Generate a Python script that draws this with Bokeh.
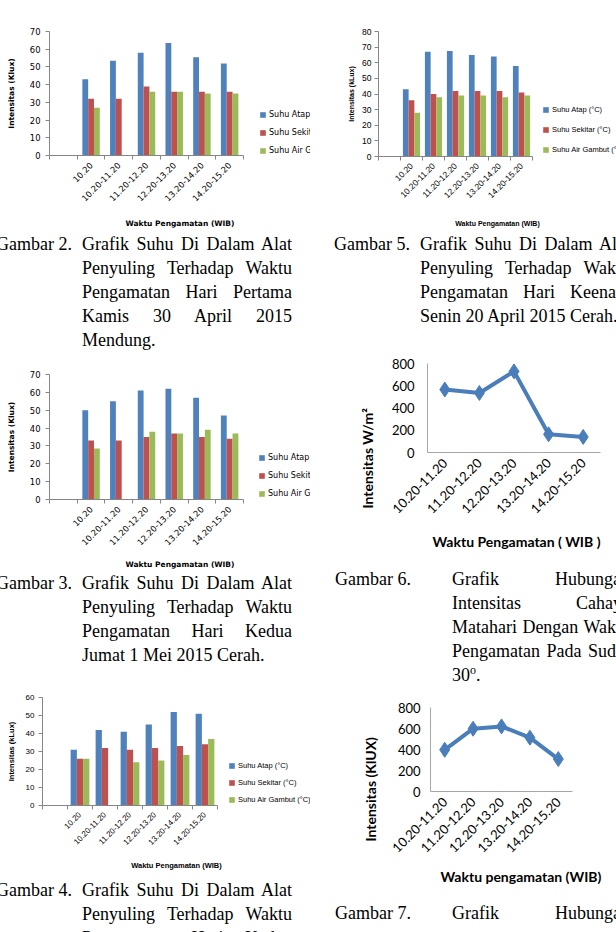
import math
from bokeh.plotting import figure
from bokeh.models import Range1d, FixedTicker, Legend, LegendItem, Div, Title
from bokeh.layouts import column, row
from bokeh.transform import dodge
from bokeh.embed import file_html
from bokeh.resources import INLINE

# ---------------- data ----------------
slots7 = ["10.20", "10.20-11.20", "11.20-12.20", "12.20-13.20", "13.20-14.20", "14.20-15.20"]
slots5 = ["10.20-11.20", "11.20-12.20", "12.20-13.20", "13.20-14.20", "14.20-15.20"]

g2_atap = [43, 53.5, 58, 63.5, 55.5, 52]
g2_sekitar = [32, 32, 39, 36, 36, 36]
g2_air = [27, None, 36, 36, 35, 35]

g3_atap = [50, 55, 61, 62, 57, 47]
g3_sekitar = [33, 33, 35, 37, 35, 34]
g3_air = [28.5, None, 38, 37, 39, 37]

g4_atap = [31, 42, 41, 45, 52, 51]
g4_sekitar = [26, 32, 31, 32, 33, 34]
g4_air = [26, None, 24, 25, 28, 37]

g5_atap = [43, 67, 67.5, 65, 64, 58]
g5_sekitar = [36, 40, 42, 42, 42, 41]
g5_air = [28, 38, 39, 39, 38, 39]

g6_intensitas = [566, 535, 729, 164, 140]
g7_intensitas = [397, 598, 620, 513, 309]

labels_a = ["Suhu Atap (°C)", "Suhu Sekitar (°C)", "Suhu Air Gambut (°C)"]
x_title_bar = "Waktu Pengamatan (WIB)"

BLUE = "#4F81BD"
RED = "#C0504D"
GREEN = "#9BBB59"
AXIS = "#868686"
LINE_BLUE = "#4A7EBB"


def nan(v):
    return [float("nan") if x is None else x for x in v]


def bar_chart(width, height, frame_left, axis_end, top, bottom, ymax, ystep, series, ylabel,
              bar_w, font, tick_fs, leg_fs, title_fs, leg_x, leg_y, leg_spacing,
              xl_standoff, yl_standoff, ylab_standoff):
    n = len(slots7)
    slot_px = (axis_end - frame_left) / (n + 1)
    x_end = -0.5 + (width - frame_left) / slot_px
    p = figure(width=width, height=height, output_backend="svg", toolbar_location=None,
               x_range=Range1d(-0.5, x_end), y_range=Range1d(0, ymax),
               min_border_left=frame_left, min_border_right=0,
               min_border_top=top, min_border_bottom=bottom, frame_align=False)
    p.outline_line_color = None
    p.xgrid.visible = False
    p.ygrid.visible = False
    xs = list(range(1, n + 1))
    data = {"x": xs, "a": nan(series[0]), "b": nan(series[1]), "c": nan(series[2])}
    rs = []
    for key, off, col in (("a", -bar_w, BLUE), ("b", 0.0, RED), ("c", bar_w, GREEN)):
        r = p.vbar(x=dodge("x", off, range=p.x_range), top=key, width=bar_w, source=data,
                   fill_color=col, line_color=None)
        rs.append(r)
    legend = Legend(items=[LegendItem(label=l, renderers=[r]) for l, r in zip(labels_a, rs)],
                    location=(leg_x, leg_y), orientation="vertical", glyph_width=7, glyph_height=7,
                    label_height=6, label_standoff=3, spacing=leg_spacing, padding=0, margin=0,
                    border_line_color=None, background_fill_alpha=0,
                    label_text_font=font, label_text_font_size=f"{leg_fs}px",
                    label_text_color="#000000")
    p.add_layout(legend)

    p.yaxis.ticker = FixedTicker(ticks=list(range(0, ymax + 1, ystep)))
    p.xaxis.ticker = FixedTicker(ticks=xs, minor_ticks=[i + 0.5 for i in range(-1, n + 1)])
    p.xaxis.bounds = (-0.5, n + 0.5)
    p.xaxis.major_label_overrides = {x: s for x, s in zip(xs, slots7)}
    p.xaxis.major_label_orientation = math.pi / 4
    for ax in (p.xaxis[0], p.yaxis[0]):
        ax.axis_line_color = AXIS
        ax.major_label_text_font = font
        ax.major_label_text_font_size = f"{tick_fs}px"
        ax.major_label_text_color = "#000000"
        ax.axis_label_text_font = font
        ax.axis_label_text_font_style = "bold"
        ax.axis_label_text_font_size = f"{title_fs}px"
        ax.axis_label_text_color = "#000000"
    p.yaxis.major_tick_line_color = AXIS
    p.yaxis.major_tick_out = 4
    p.yaxis.major_tick_in = 0
    p.yaxis.minor_tick_line_color = None
    p.yaxis.major_label_standoff = ylab_standoff
    p.xaxis.major_tick_line_color = None
    p.xaxis.major_tick_out = 2
    p.xaxis.minor_tick_line_color = AXIS
    p.xaxis.minor_tick_out = 4
    p.xaxis.minor_tick_in = 0
    p.xaxis.major_label_standoff = 4
    p.yaxis.axis_label = ylabel
    p.xaxis.axis_label = x_title_bar
    p.xaxis.axis_label_standoff = xl_standoff
    p.yaxis.axis_label_standoff = yl_standoff
    return p


def line_chart(width, height, borders, values, ylabel, xlabel, ylab_standoff,
               xt_standoff, xt_offset, yt_standoff, yt_offset):
    left, right, top, bottom = borders
    n = len(slots5)
    p = figure(width=width, height=height, output_backend="svg", toolbar_location=None,
               x_range=Range1d(-0.5, n - 0.5), y_range=Range1d(0, 800),
               min_border_left=left, min_border_right=right,
               min_border_top=top, min_border_bottom=bottom, frame_align=False)
    p.outline_line_color = None
    p.xgrid.visible = False
    p.ygrid.visible = False
    xs = list(range(n))
    p.line(xs, values, line_width=4, line_color=LINE_BLUE)
    p.scatter(xs, values, marker="diamond", size=15, fill_color=LINE_BLUE, line_color=LINE_BLUE)
    p.yaxis.ticker = FixedTicker(ticks=[0, 200, 400, 600, 800])
    p.xaxis.ticker = FixedTicker(ticks=xs)
    p.xaxis.major_label_overrides = {x: s for x, s in zip(xs, slots5)}
    p.xaxis.major_label_orientation = math.pi / 4
    for ax in (p.xaxis[0], p.yaxis[0]):
        ax.axis_line_color = "#A6A6A6"
        ax.major_tick_line_color = None
        ax.minor_tick_line_color = None
        ax.major_tick_out = 0
        ax.major_tick_in = 0
        ax.major_label_text_font = "Lato"
        ax.major_label_text_font_size = "13px"
        ax.major_label_text_color = "#000000"
    p.xaxis.major_label_standoff = 8
    p.yaxis.major_label_standoff = ylab_standoff
    xt = Title(text=xlabel, align="left", offset=xt_offset, standoff=xt_standoff,
               text_font="Lato", text_font_style="bold", text_font_size="14px", text_color="#000000")
    yt = Title(text=ylabel, align="left", offset=yt_offset, standoff=yt_standoff,
               text_font="Lato", text_font_style="bold", text_font_size="14px", text_color="#000000")
    p.add_layout(xt, "below")
    p.add_layout(yt, "left")
    return p


def caption(width, height, label, label_x, text_x, text_w, top, lines, clip, last_just=False):
    parts = [f'<div style="position:absolute;left:{label_x}px;top:{top}px;white-space:nowrap;">{label}</div>']
    for i, ln in enumerate(lines):
        last = "justify" if (i < len(lines) - 1 or last_just) else "left"
        parts.append(
            f'<div style="position:absolute;left:{text_x}px;top:{top + i * 24}px;width:{text_w}px;'
            f'text-align:justify;text-align-last:{last};white-space:nowrap;">{ln}</div>')
    ov = "hidden" if clip else "visible"
    html = (f'<div style="position:relative;width:{width}px;height:{height}px;overflow:{ov};'
            f"font-family:'Liberation Serif','Times New Roman',serif;font-size:18px;line-height:24px;color:#000;\">"
            + "".join(parts) + "</div>")
    return Div(text=html, width=width, height=height, margin=0, styles={"overflow": ov})


# ---------------- left column (x 0..310) ----------------
f2 = bar_chart(310, 232, 49, 243, 31, 77, 70, 10, (g2_atap, g2_sekitar, g2_air),
               "Intensitas (Klux)", 0.21, "DejaVu Sans", 8.4, 8, 7.5,
               210, 0, 9, 12, 11, 5)
c2 = caption(310, 118, "Gambar 2.", -4, 82, 210, 0,
             ["Grafik Suhu Di Dalam Alat", "Penyuling Terhadap Waktu", "Pengamatan Hari Pertama",
              "Kamis 30 April 2015", "Mendung."], False)
f3 = bar_chart(310, 222, 49, 243, 24, 73, 70, 10, (g3_atap, g3_sekitar, g3_air),
               "Intensitas (Klux)", 0.21, "DejaVu Sans", 8.4, 8, 7.5,
               209, 1, 9, 9, 11, 5)
c3 = caption(310, 96, "Gambar 3.", -4, 82, 210, -1,
             ["Grafik Suhu Di Dalam Alat", "Penyuling Terhadap Waktu", "Pengamatan Hari Kedua",
              "Jumat 1 Mei 2015 Cerah."], False)
f4 = bar_chart(310, 212, 42, 217, 29, 75, 60, 10, (g4_atap, g4_sekitar, g4_air),
               "Intensitas (kLux)", 0.25, "Liberation Sans", 8, 7.5, 7.5,
               186, 1, 8, 11, 7, 4)
c4 = caption(310, 50, "Gambar 4.", -4, 82, 210, -2,
             ["Grafik Suhu Di Dalam Alat", "Penyuling Terhadap Waktu", "Pengamatan Hari Kedua"],
             False, last_just=True)

# ---------------- right column (x 310..616) ----------------
f5 = bar_chart(306, 232, 68, 222, 31, 76, 80, 10, (g5_atap, g5_sekitar, g5_air),
               "Intensitas (kLux)", 0.26, "Liberation Sans", 8.5, 7.5, 7,
               164, 2, 11, 16, 4, 3)
c5 = caption(306, 98, "Gambar 5.", 24, 110, 210, 0,
             ["Grafik Suhu Di Dalam Alat", "Penyuling Terhadap Waktu", "Pengamatan Hari Keenam",
              "Senin 20 April 2015 Cerah."], True)
f6 = line_chart(306, 238, (117, 16, 33, 116), g6_intensitas, "Intensitas W/m²",
                "Waktu Pengamatan ( WIB )", 13, 20, 5, 26, -56)
c6 = caption(306, 122, "Gambar 6.", 25, 142, 178, -1,
             ["Grafik Hubungan", "Intensitas Cahaya", "Matahari Dengan Waktu",
              "Pengamatan Pada Sudut", "30<sup style='font-size:12px;line-height:0'>o</sup>."], True)
f7 = line_chart(306, 200, (120, 44, 17, 98), g7_intensitas, "Intensitas (KlUX)",
                "Waktu pengamatan (WIB)", 10, 12, 10, 32, -50)
c7 = caption(306, 40, "Gambar 7.", 25, 142, 178, 11, ["Grafik Hubungan"], True, last_just=True)

left = column(f2, c2, f3, c3, f4, c4)
right = column(f5, c5, f6, c6, f7, c7)
page = row(left, right)

open("out.html", "w").write(file_html(page, INLINE))
